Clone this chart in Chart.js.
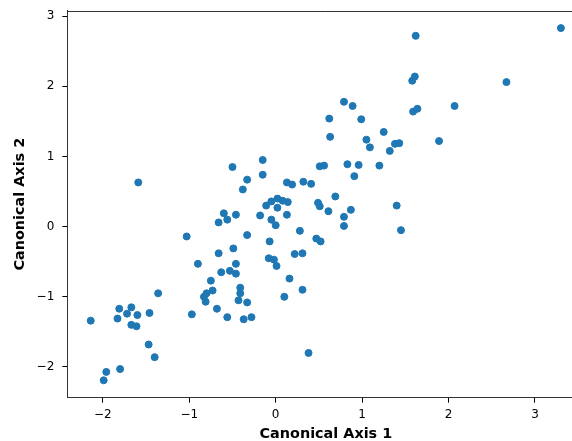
<!DOCTYPE html>
<html><head><meta charset="utf-8">
<script src="https://cdn.jsdelivr.net/npm/chart.js@4/dist/chart.umd.min.js"></script>
<style>html,body{margin:0;padding:0;overflow:hidden;background:#fff}canvas{display:block}</style>
</head><body>
<canvas id="c" width="600" height="441"></canvas>
<script>
const xValues = [1.62,3.30,1.61,1.58,2.67,0.79,0.89,2.07,1.59,1.64,0.62,0.99,1.25,0.63,1.05,1.09,1.32,1.38,1.43,1.89,
  0.51,0.56,0.83,0.96,1.20,0.91,0.41,0.32,0.13,0.19,0.69,0.49,0.51,0.61,0.87,1.40,0.79,0.79,1.45,0.47,
  0.52,0.28,0.22,0.31,0.16,0.31,0.10,0.38,-0.50,-0.15,-0.15,-0.33,-0.38,-0.11,-0.05,0.02,0.08,0.14,0.02,-0.18,
  -0.05,0.00,0.13,-0.60,-0.66,-0.56,-0.46,-1.03,-0.33,-0.07,-0.66,-0.49,-0.08,-0.02,0.01,-0.90,-0.63,-0.53,-0.46,-0.46,
  -0.75,-0.73,-0.80,-0.83,-0.81,-0.41,-0.41,-0.43,-0.33,-1.36,-0.68,-0.97,-0.56,-0.37,-0.28,-1.81,-1.67,-1.72,-1.60,-1.83,
  -1.67,-1.61,-1.46,-2.14,-1.47,-1.40,-1.80,-1.96,-1.99,-1.59];
const yValues = [2.72,2.83,2.14,2.08,2.06,1.78,1.72,1.72,1.64,1.68,1.54,1.53,1.35,1.28,1.24,1.13,1.08,1.18,1.19,1.22,
  0.86,0.87,0.89,0.88,0.87,0.72,0.61,0.64,0.63,0.60,0.43,0.34,0.29,0.22,0.24,0.30,0.14,0.01,-0.05,-0.17,
  -0.21,-0.06,-0.39,-0.38,-0.74,-0.90,-1.00,-1.80,0.85,0.95,0.74,0.67,0.53,0.30,0.36,0.40,0.37,0.35,0.27,0.16,
  0.10,0.02,0.17,0.19,0.06,0.10,0.17,-0.14,-0.12,-0.21,-0.38,-0.31,-0.45,-0.47,-0.56,-0.53,-0.65,-0.63,-0.53,-0.67,
  -0.77,-0.91,-0.95,-1.00,-1.07,-0.87,-0.95,-1.05,-1.08,-0.95,-1.17,-1.25,-1.29,-1.32,-1.29,-1.17,-1.15,-1.24,-1.26,-1.31,
  -1.40,-1.42,-1.23,-1.34,-1.68,-1.86,-2.03,-2.07,-2.19,0.63];
const xTicks = [-2,-1,0,1,2,3];
const yTicks = [-2,-1,0,1,2,3];
const xLimits = [-2.411, 3.572];
const yLimits = [-2.438, 3.078];
const xLabel = 'Canonical Axis 1';
const yLabel = 'Canonical Axis 2';

const points = xValues.map((x, i) => ({x: x, y: yValues[i]}));
const fmt = v => (v < 0 ? '\u2212' + Math.abs(v) : String(v));
const tickFont = {family: 'DejaVu Sans', size: 12};
const titleFont = {family: 'DejaVu Sans', size: 14.4, weight: 'bold', lineHeight: 1.0};

const spinePlugin = {
  id: 'spines',
  afterDraw(chart) {
    const {ctx, chartArea: a} = chart;
    ctx.save();
    ctx.strokeStyle = '#333';
    ctx.lineWidth = 1;
    ctx.beginPath();
    ctx.moveTo(a.left, Math.round(a.top) + 0.5);
    ctx.lineTo(a.right, Math.round(a.top) + 0.5);
    ctx.moveTo(Math.round(a.right) + 0.5, a.top);
    ctx.lineTo(Math.round(a.right) + 0.5, a.bottom);
    ctx.stroke();
    ctx.restore();
  }
};

new Chart(document.getElementById('c'), {
  type: 'scatter',
  data: {datasets: [{
    data: points,
    backgroundColor: '#1f77b4',
    borderColor: '#1f77b4',
    borderWidth: 1,
    pointRadius: 3.5,
    pointHoverRadius: 3.5
  }]},
  options: {
    responsive: false,
    animation: false,
    devicePixelRatio: 1,
    layout: {padding: {top: 10.7, right: 15.6, bottom: 0, left: 0}},
    plugins: {legend: {display: false}, tooltip: {enabled: false}},
    scales: {
      x: {
        type: 'linear',
        min: xLimits[0], max: xLimits[1],
        afterBuildTicks: s => { s.ticks = xTicks.map(v => ({value: v})); },
        afterFit: s => { s.height = 43.3; s.paddingLeft = 0; s.paddingRight = 0; },
        ticks: {callback: fmt, font: tickFont, color: '#000', padding: 5, maxRotation: 0},
        grid: {drawOnChartArea: false, drawTicks: true, tickLength: 5, color: '#000', tickWidth: 1},
        border: {display: true, color: '#333', width: 1},
        title: {display: true, text: xLabel, font: titleFont, color: '#000', padding: {top: 4, bottom: 0}}
      },
      y: {
        type: 'linear',
        min: yLimits[0], max: yLimits[1],
        afterBuildTicks: s => { s.ticks = yTicks.map(v => ({value: v})); },
        afterFit: s => { s.width = 67.3; s.paddingTop = 0; s.paddingBottom = 0; },
        ticks: {callback: fmt, font: tickFont, color: '#000', padding: 8},
        grid: {drawOnChartArea: false, drawTicks: true, tickLength: 5, color: '#000', tickWidth: 1},
        border: {display: true, color: '#333', width: 1},
        title: {display: true, text: yLabel, font: titleFont, color: '#000', padding: {top: 13, bottom: 0}}
      }
    }
  },
  plugins: [spinePlugin]
});
</script>
</body></html>
